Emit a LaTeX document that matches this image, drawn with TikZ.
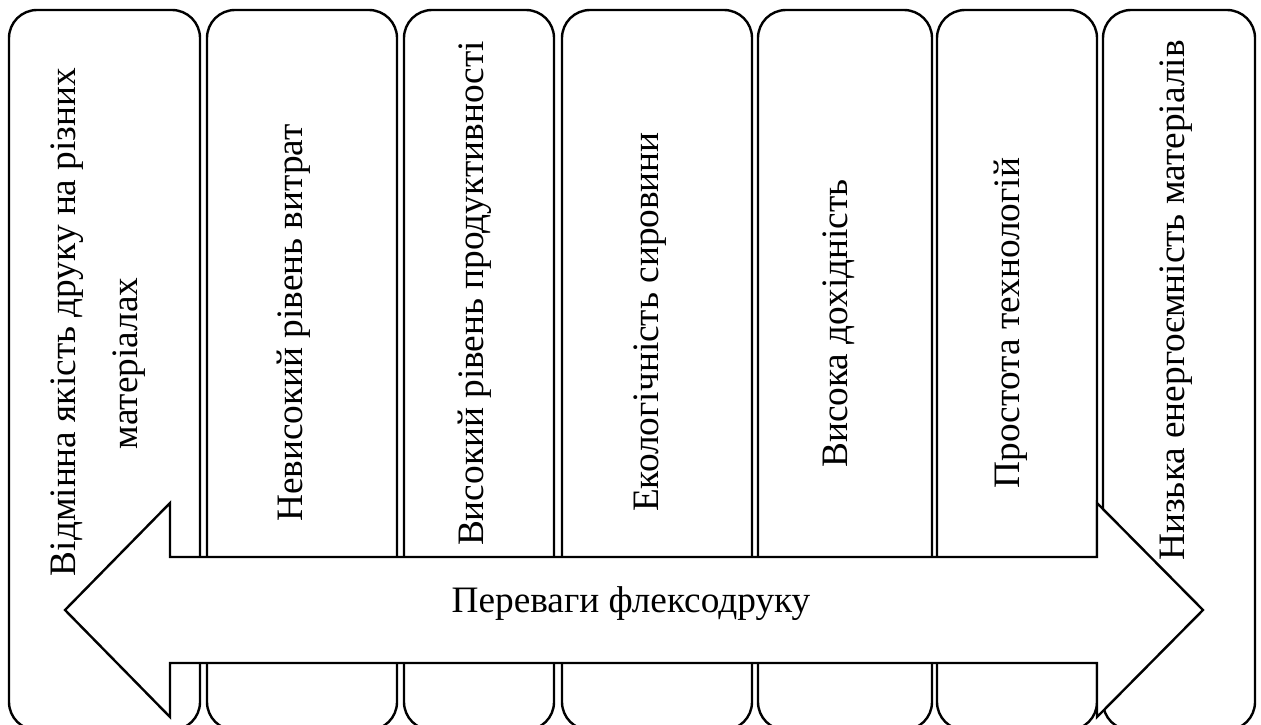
\documentclass[tikz,border=0pt]{standalone}
\usepackage{fontspec}
\setmainfont{Liberation Serif}
\begin{document}
\begin{tikzpicture}[x=1pt,y=-1pt,
  panel/.style={draw, line width=2.4pt, rounded corners=28pt, fill=white, inner sep=0pt, minimum height=720pt},
  txt/.style={font=\fontsize{37.3}{44}\selectfont, inner sep=0pt, anchor=base},
  vtxt/.style={txt, rotate=90},
  arrowband/.style={draw, line width=2.4pt, fill=white, line join=miter}]
\useasboundingbox (0,0) rectangle (1261,724);
\clip (0,0) rectangle (1261,724);

% vertical panels
\node[panel, minimum width=191pt] (p1) at (104.5,370) {};
\node[panel, minimum width=190pt] (p2) at (302,370) {};
\node[panel, minimum width=150pt] (p3) at (479,370) {};
\node[panel, minimum width=190pt] (p4) at (657,370) {};
\node[panel, minimum width=174pt] (p5) at (845,370) {};
\node[panel, minimum width=160pt] (p6) at (1017,370) {};
\node[panel, minimum width=152pt] (p7) at (1179,370) {};

% double-headed band across the panels
\draw[arrowband] (65,610) -- (170,503) -- (170,557) -- (1097,557) -- (1097,503)
  -- (1203,610) -- (1097,717) -- (1097,663) -- (170,663) -- (170,717) -- cycle;

% panel captions
\node[vtxt] (t1a) at (75,322) {Відмінна якість друку на різних};
\node[vtxt] (t1b) at (137,363.5) {матеріалах};
\node[vtxt] (t2) at (302,323) {Невисокий рівень витрат};
\node[vtxt] (t3) at (483,293.5) {Високий рівень продуктивності};
\node[vtxt] (t4) at (658,322) {Екологічність сировини};
\node[vtxt] (t5) at (847,323.5) {Висока дохідність};
\node[vtxt] (t6) at (1019,323) {Простота технологій};
\node[vtxt] (t7) at (1184,300.5) {Низька енергоємність матеріалів};
\node[txt] (head) at (631,612) {Переваги флексодруку};
\end{tikzpicture}
\end{document}
